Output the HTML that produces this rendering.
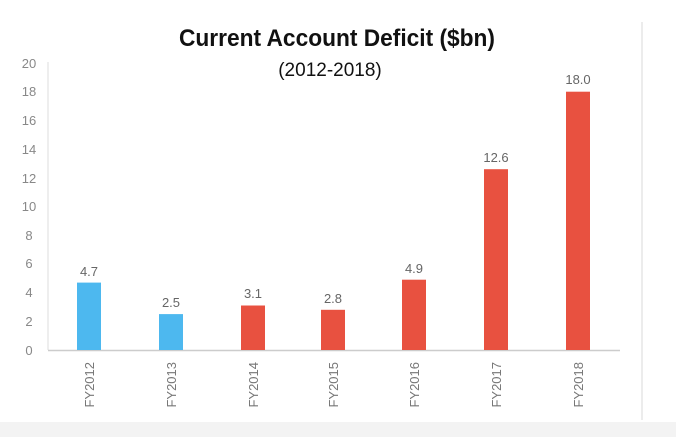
<!DOCTYPE html>
<html><head><style>
html,body{margin:0;padding:0;background:#fff;}
svg{display:block;}
</style></head><body>
<svg width="676" height="437" viewBox="0 0 676 437" xmlns="http://www.w3.org/2000/svg">
<rect x="0" y="0" width="676" height="437" fill="#fff"/>
<rect x="0" y="422" width="676" height="15" fill="#f3f3f3"/>
<line x1="642" y1="22" x2="642" y2="420" stroke="#e6e6e6" stroke-width="1.5"/>
<text x="337" y="46" text-anchor="middle" font-family="Liberation Sans, sans-serif" font-weight="bold" font-size="24" fill="#111" textLength="316" lengthAdjust="spacingAndGlyphs">Current Account Deficit ($bn)</text>
<text x="330" y="76" text-anchor="middle" font-family="Liberation Sans, sans-serif" font-size="19" fill="#111">(2012-2018)</text>
<line x1="48" y1="62" x2="48" y2="350" stroke="#ddd" stroke-width="1"/>
<line x1="48" y1="350.5" x2="620" y2="350.5" stroke="#ccc" stroke-width="1.5"/>
<g font-family="Liberation Sans, sans-serif" font-size="13" fill="#888" text-anchor="middle">
<text x="29" y="68">20</text><text x="29" y="96">18</text><text x="29" y="125">16</text><text x="29" y="154">14</text><text x="29" y="183">12</text><text x="29" y="211">10</text><text x="29" y="240">8</text><text x="29" y="268">6</text><text x="29" y="297">4</text><text x="29" y="326">2</text><text x="29" y="355">0</text>
</g>
<g>
<rect x="77" y="282.6" width="24" height="67.4" fill="#4db8ef"/>
<rect x="159" y="314.1" width="24" height="35.9" fill="#4db8ef"/>
<rect x="241" y="305.5" width="24" height="44.5" fill="#e85140"/>
<rect x="321" y="309.8" width="24" height="40.2" fill="#e85140"/>
<rect x="402" y="279.7" width="24" height="70.3" fill="#e85140"/>
<rect x="484" y="169.2" width="24" height="180.8" fill="#e85140"/>
<rect x="566" y="91.7" width="24" height="258.3" fill="#e85140"/>
</g>
<g font-family="Liberation Sans, sans-serif" font-size="13" fill="#666" text-anchor="middle">
<text x="89" y="276">4.7</text><text x="171" y="307">2.5</text><text x="253" y="298">3.1</text><text x="333" y="303">2.8</text><text x="414" y="273">4.9</text><text x="496" y="162">12.6</text><text x="578" y="84">18.0</text>
</g>
<g font-family="Liberation Sans, sans-serif" font-size="13" fill="#777" text-anchor="end">
<text transform="translate(94,362) rotate(-90)">FY2012</text>
<text transform="translate(176,362) rotate(-90)">FY2013</text>
<text transform="translate(258,362) rotate(-90)">FY2014</text>
<text transform="translate(338,362) rotate(-90)">FY2015</text>
<text transform="translate(419,362) rotate(-90)">FY2016</text>
<text transform="translate(501,362) rotate(-90)">FY2017</text>
<text transform="translate(583,362) rotate(-90)">FY2018</text>
</g>
</svg>
</body></html>
